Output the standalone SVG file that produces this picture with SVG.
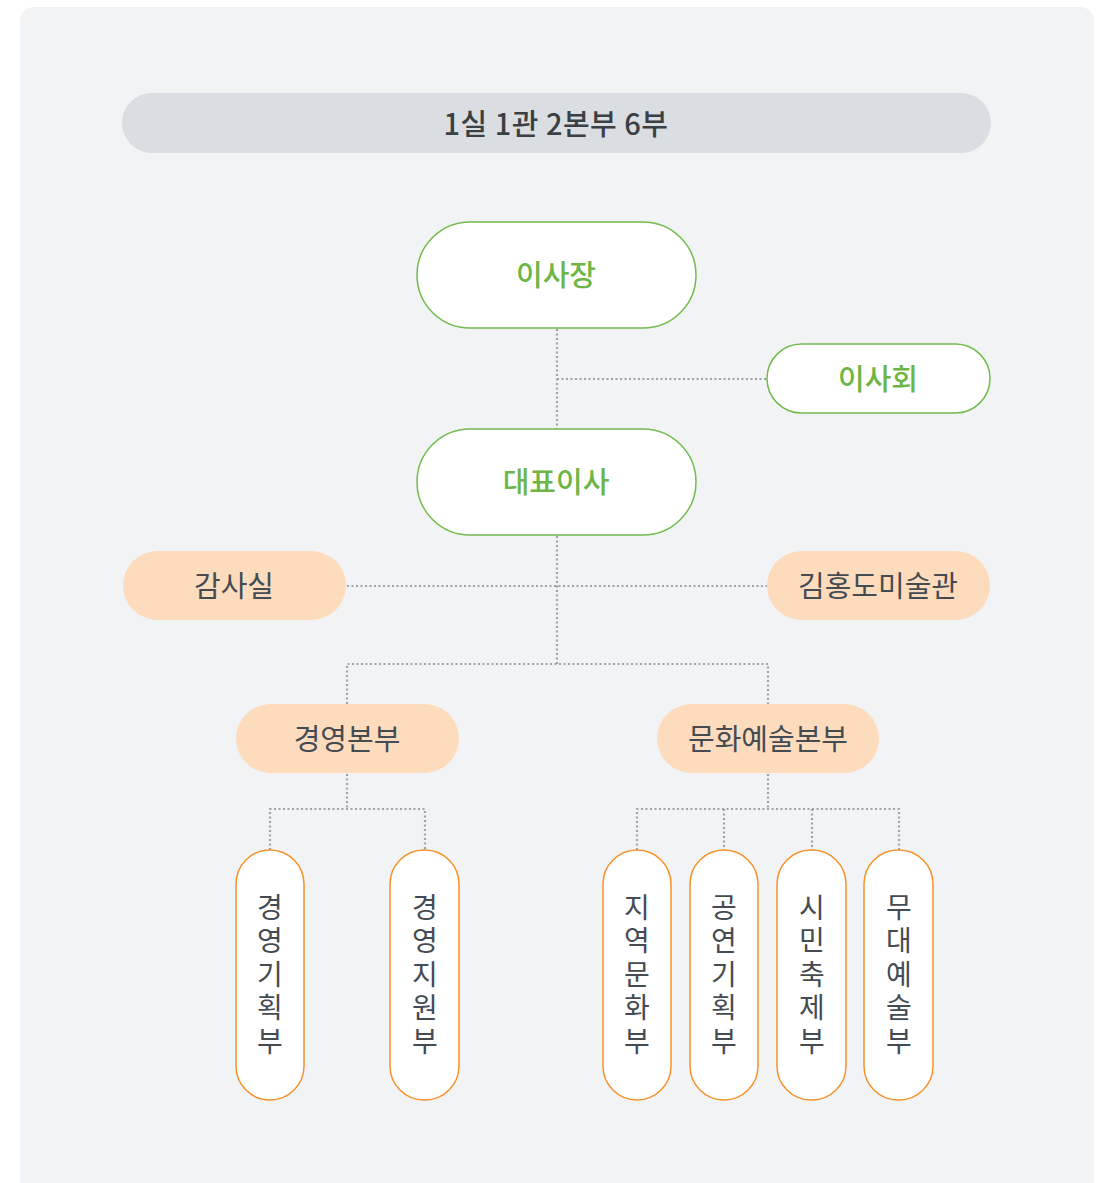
<svg xmlns="http://www.w3.org/2000/svg" width="1107" height="1183" viewBox="0 0 1107 1183">
<style>
text{font-family:"Noto Sans CJK KR","Noto Sans",sans-serif;font-size:29px;text-anchor:middle;dominant-baseline:central}
.g rect{fill:#fff;stroke:#72bb4c;stroke-width:1.5}
.g text{fill:#6db545;font-weight:500}
.p rect{fill:#fddcbd}
.p text,.o text{fill:#454b52}
.o rect{fill:#fff;stroke:#f7912a;stroke-width:1.5}
.o text{font-size:28px;writing-mode:vertical-rl;letter-spacing:5.5px}
.c{fill:none;stroke:#9ea3a9;stroke-width:2.2;stroke-dasharray:2 2.5}
</style>
<rect x="20" y="7" width="1074" height="1190" rx="14" fill="#f2f3f5"/>
<g id="title">
<rect x="122" y="93" width="869" height="60" rx="30" fill="#dadde1"/>
<text x="556" y="122" fill="#3a3f44" font-weight="500" font-size="30" letter-spacing="0.5">1실 1관 2본부 6부</text>
</g>
<g id="connectors">
<path class="c" d="M557 329V429M557 379H767M557 536V664M347 586H767M347 704V664H768V704M347 774V809M270 850V809H425V850M768 774V809M637 850V809H899V850M724 809V850M812 809V850"/>
</g>
<g id="n1" class="g"><rect x="417" y="222" width="279" height="106" rx="53"/><text x="556" y="273">이사장</text></g>
<g id="n2" class="g"><rect x="767" y="344" width="223" height="69" rx="34.5"/><text x="878" y="377">이사회</text></g>
<g id="n3" class="g"><rect x="417" y="429" width="279" height="106" rx="53"/><text x="556" y="480">대표이사</text></g>
<g id="n4" class="p"><rect x="123" y="551" width="223" height="69" rx="34.5"/><text x="234" y="584">감사실</text></g>
<g id="n5" class="p"><rect x="767" y="551" width="223" height="69" rx="34.5"/><text x="878" y="584">김홍도미술관</text></g>
<g id="n6" class="p"><rect x="236" y="704" width="223" height="69" rx="34.5"/><text x="347" y="737">경영본부</text></g>
<g id="n7" class="p"><rect x="657" y="704" width="222" height="69" rx="34.5"/><text x="768" y="737">문화예술본부</text></g>
<g id="n8" class="o"><rect x="236" y="850" width="68" height="250" rx="34"/><text x="270" y="977">경영기획부</text></g>
<g id="n9" class="o"><rect x="390" y="850" width="69" height="250" rx="34"/><text x="425" y="977">경영지원부</text></g>
<g id="n10" class="o"><rect x="603" y="850" width="68" height="250" rx="34"/><text x="637" y="977">지역문화부</text></g>
<g id="n11" class="o"><rect x="690" y="850" width="68" height="250" rx="34"/><text x="724" y="977">공연기획부</text></g>
<g id="n12" class="o"><rect x="777" y="850" width="69" height="250" rx="34"/><text x="812" y="977">시민축제부</text></g>
<g id="n13" class="o"><rect x="864" y="850" width="69" height="250" rx="34"/><text x="899" y="977">무대예술부</text></g>
</svg>
